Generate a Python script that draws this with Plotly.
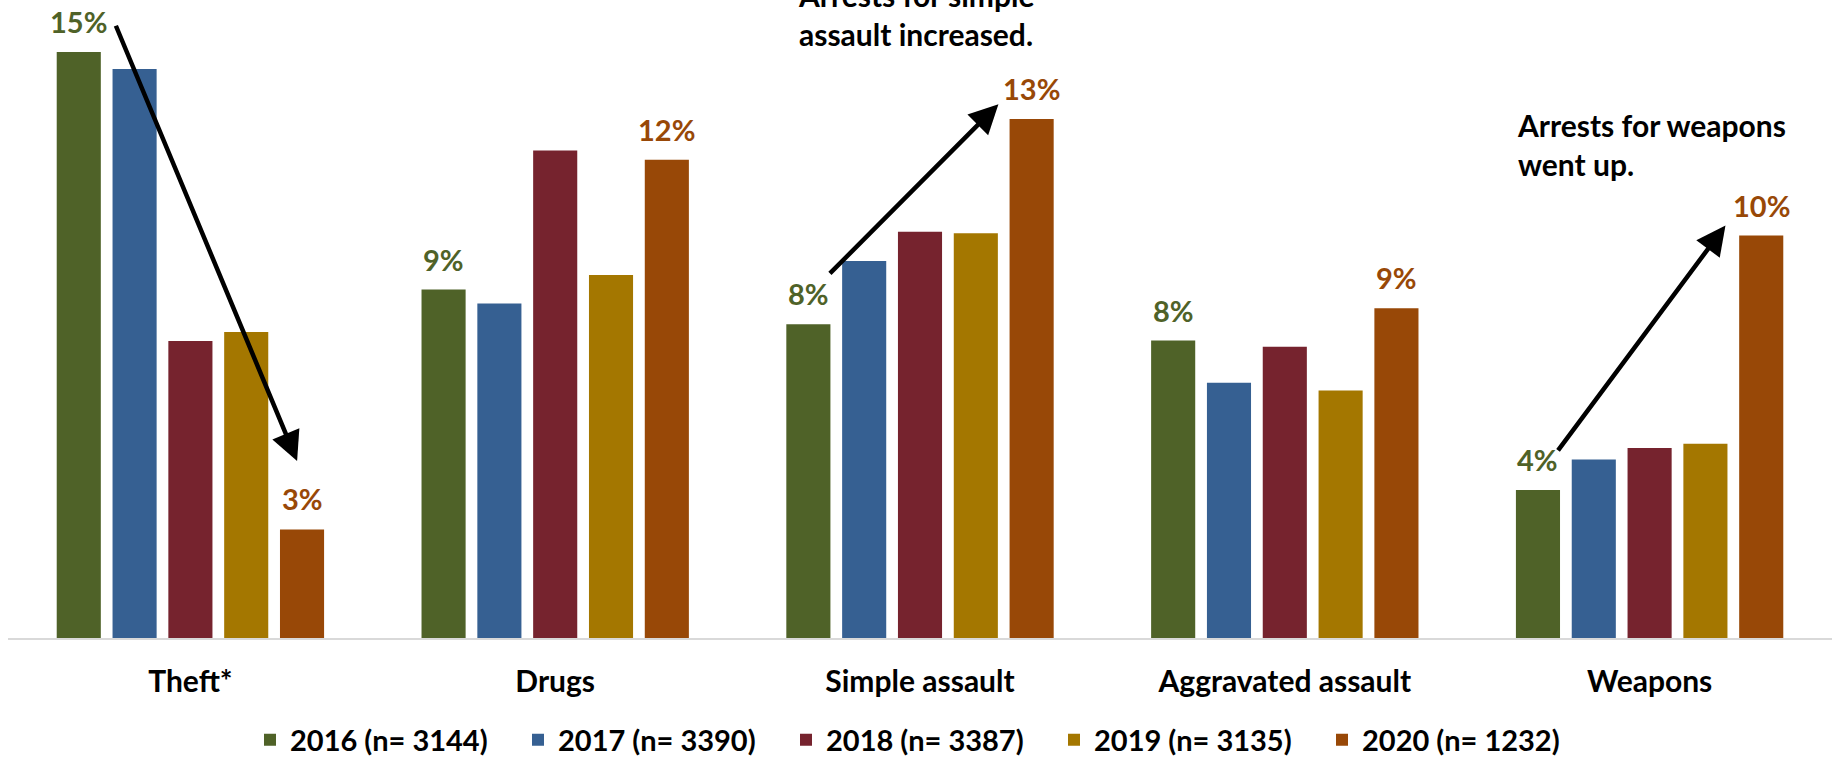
import plotly.graph_objects as go

# ---- data (percent of arrests by offense type) ----
categories = ["Theft*", "Drugs", "Simple assault", "Aggravated assault", "Weapons"]
series_names = ["2016 (n= 3144)", "2017 (n= 3390)", "2018 (n= 3387)", "2019 (n= 3135)", "2020 (n= 1232)"]
v2016 = [15.17, 9.02, 8.12, 7.70, 3.83]
v2017 = [14.73, 8.66, 9.76, 6.61, 4.62]
v2018 = [7.69, 12.62, 10.52, 7.54, 4.92]
v2019 = [7.92, 9.40, 10.48, 6.41, 5.03]
v2020 = [2.81, 12.38, 13.44, 8.54, 10.42]
series_values = [v2016, v2017, v2018, v2019, v2020]
labelled_series = [0, 4]  # only 2016 and 2020 carry value labels

YMAX = 16
notes = [
    ("Arrests for simple<br>assault increased.", 1.661, 16.14),
    ("Arrests for weapons<br>went up.", 3.632, 12.78),
]
# arrows: (head_x, head_y, tail_x, tail_y) in data units
arrows = [
    (0.2925, 4.585, -0.206, 15.89),
    (2.215, 13.82, 1.749, 9.40),
    (4.208, 10.68, 3.746, 4.82),
]

colors = ["#4F6228", "#366092", "#76232E", "#A47700", "#984807"]
FONT = "Lato"
FS = 30
FS_SMALL = 29
BARGAP = 0.235
GROUPGAP = 0.21

fig = go.Figure()
for name, vals, col in zip(series_names, series_values, colors):
    fig.add_trace(go.Bar(x=categories, y=vals, name=name, marker=dict(color=col, line=dict(width=0))))

slot = (1 - BARGAP) / len(series_values)
annotations = []
for s in labelled_series:
    for i, v in enumerate(series_values[s]):
        annotations.append(dict(
            x=i + (s - (len(series_values) - 1) / 2) * slot, y=v, xref="x", yref="y",
            text=f"{v:.0f}%", showarrow=False, yanchor="bottom", yshift=11,
            font=dict(family=FONT, size=FS_SMALL, color=colors[s], weight="bold")))
for txt, x, y in notes:
    annotations.append(dict(x=x, y=y / YMAX, xref="x", yref="paper", text=txt, showarrow=False,
                            xanchor="left", yanchor="middle", align="left",
                            font=dict(family=FONT, size=FS, color="black", weight="bold")))
for hx, hy, tx, ty in arrows:
    annotations.append(dict(x=hx, y=hy, ax=tx, ay=ty, xref="x", yref="y", axref="x", ayref="y",
                            text="", showarrow=True, arrowhead=2, arrowsize=1.3, arrowwidth=4.5,
                            arrowcolor="black"))

fig.update_layout(
    width=1833, height=757,
    margin=dict(l=8, r=1, t=20, b=119, autoexpand=False),
    paper_bgcolor="white", plot_bgcolor="white",
    barmode="group", bargap=BARGAP, bargroupgap=GROUPGAP,
    showlegend=True,
    legend=dict(orientation="h", x=0.5, xanchor="center", y=17 / 757, yref="container",
                yanchor="middle", entrywidth=223, entrywidthmode="pixels",
                font=dict(family=FONT, size=FS_SMALL, color="black", weight="bold")),
    xaxis=dict(range=[-0.5, 4.5], showline=True, linecolor="#D9D9D9", linewidth=2,
               showgrid=False, ticks="", ticklabelstandoff=16,
               tickfont=dict(family=FONT, size=FS, color="black", weight="bold")),
    yaxis=dict(range=[0, YMAX], visible=False, showgrid=False),
    annotations=annotations,
)
fig.write_html("out.html", config={"displayModeBar": False},
               post_script="document.body.style.margin='0';")
